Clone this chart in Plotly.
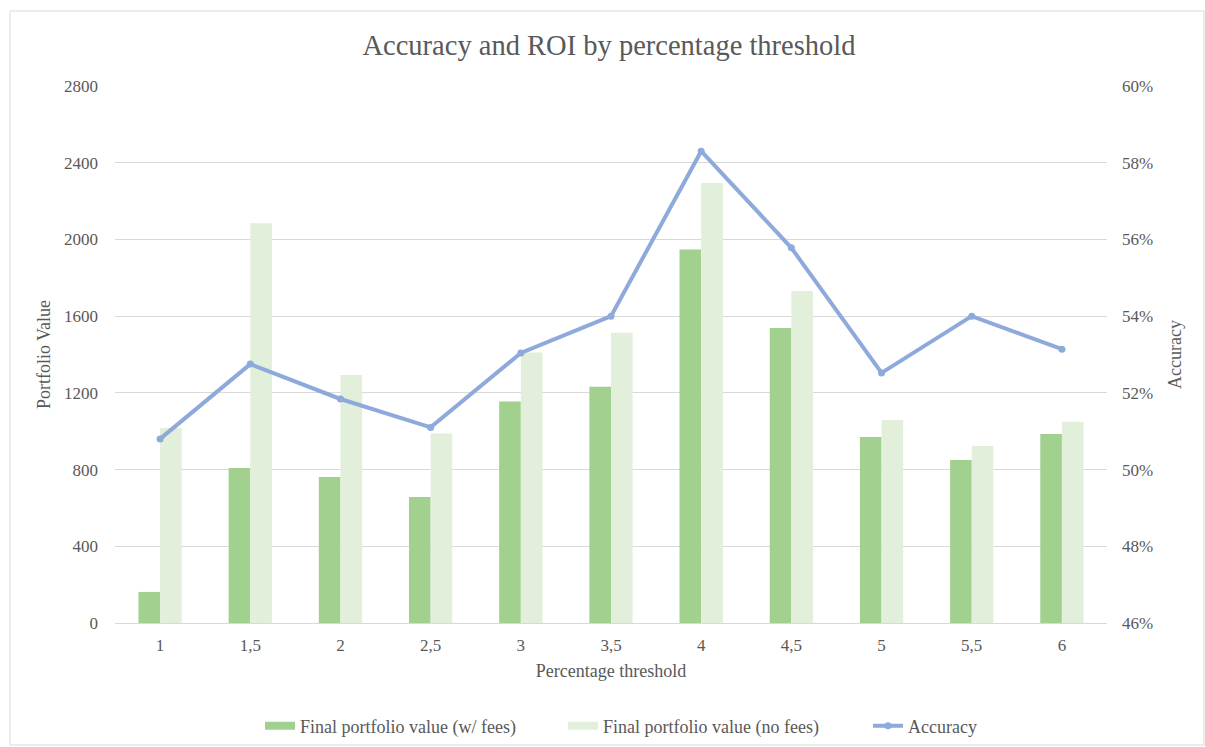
import plotly.graph_objects as go

categories = ["1", "1,5", "2", "2,5", "3", "3,5", "4", "4,5", "5", "5,5", "6"]
with_fees = [162, 808, 761, 657, 1155, 1232, 1948, 1538, 970, 850, 985]
no_fees = [1017, 2085, 1293, 988, 1410, 1514, 2294, 1731, 1058, 923, 1050]
accuracy = [0.508, 0.5275, 0.5184, 0.511, 0.5304, 0.540, 0.583, 0.5578, 0.5252, 0.540, 0.5314]

FONT = "Liberation Serif"
TXT = "#595959"
GRID = "#d9d9d9"
DARK = "#A2D08F"
LIGHT = "#E2EFDA"
BLUE = "#8EA9DB"

fig = go.Figure()
fig.add_trace(go.Bar(x=categories, y=with_fees, name="Final portfolio value (w/ fees)",
                     marker=dict(color=DARK, line=dict(width=0)), showlegend=False))
fig.add_trace(go.Bar(x=categories, y=no_fees, name="Final portfolio value (no fees)",
                     marker=dict(color=LIGHT, line=dict(width=0)), showlegend=False))
# legend-only entries with wide rectangular swatches
fig.add_trace(go.Scatter(x=[None], y=[None], name="Final portfolio value (w/ fees)",
                         mode="lines", line=dict(color=DARK, width=8), legend="legend"))
fig.add_trace(go.Scatter(x=[None], y=[None], name="Final portfolio value (no fees)",
                         mode="lines", line=dict(color=LIGHT, width=8), legend="legend"))
fig.add_trace(go.Scatter(x=categories, y=accuracy, name="Accuracy", yaxis="y2",
                         mode="lines+markers", legend="legend2",
                         line=dict(color=BLUE, width=4),
                         marker=dict(color=BLUE, size=7)))

L, R, T, B = 115, 98, 86, 124
W, H = 1205, 747
pw, ph = W - L - R, H - T - B

def px(x):
    return (x - L) / pw

def py(y):
    return (H - B - y) / ph

fig.update_layout(
    width=W, height=H,
    margin=dict(l=L, r=R, t=T, b=B, autoexpand=False),
    paper_bgcolor="white", plot_bgcolor="white",
    font=dict(family=FONT, color=TXT, size=17),
    title=dict(text="Accuracy and ROI by percentage threshold", x=609 / W, xanchor="center",
               y=1 - 45 / H, yanchor="middle", font=dict(size=28.5, color=TXT, family=FONT)),
    barmode="group", bargap=0.52, bargroupgap=0,
    xaxis=dict(type="category", range=[-0.5, 10.5], showgrid=False, showline=True,
               linecolor=GRID, linewidth=1,
               ticks="", ticklabelstandoff=7, tickfont=dict(size=17),
               title=dict(text="Percentage threshold", standoff=9, font=dict(size=18))),
    yaxis=dict(range=[0, 2800], dtick=400, showgrid=True, gridcolor=GRID, gridwidth=1,
               zeroline=False, showline=False, ticks="", ticklabelstandoff=16,
               tickfont=dict(size=17),
               title=dict(text="Portfolio Value", standoff=8, font=dict(size=18))),
    yaxis2=dict(range=[0.46, 0.60], dtick=0.02, tickformat=".0%", overlaying="y", side="right",
                showgrid=False, zeroline=False, showline=False, ticks="", ticklabelstandoff=14,
                tickfont=dict(size=17),
                title=dict(text="Accuracy", standoff=16, font=dict(size=18))),
    legend=dict(orientation="h", x=px(260), xanchor="left", y=py(726), yanchor="middle",
                font=dict(size=18, color=TXT), traceorder="normal",
                entrywidth=258, entrywidthmode="pixels", bgcolor="rgba(0,0,0,0)"),
    legend2=dict(orientation="h", x=px(868), xanchor="left", y=py(726), yanchor="middle",
                 font=dict(size=18, color=TXT), bgcolor="rgba(0,0,0,0)"),
    shapes=[dict(type="rect", xref="paper", yref="paper",
                 x0=px(10), x1=px(1204), y0=py(745), y1=py(11),
                 line=dict(color=GRID, width=1), fillcolor="rgba(0,0,0,0)", layer="below")],
)

fig.write_html("out.html")
